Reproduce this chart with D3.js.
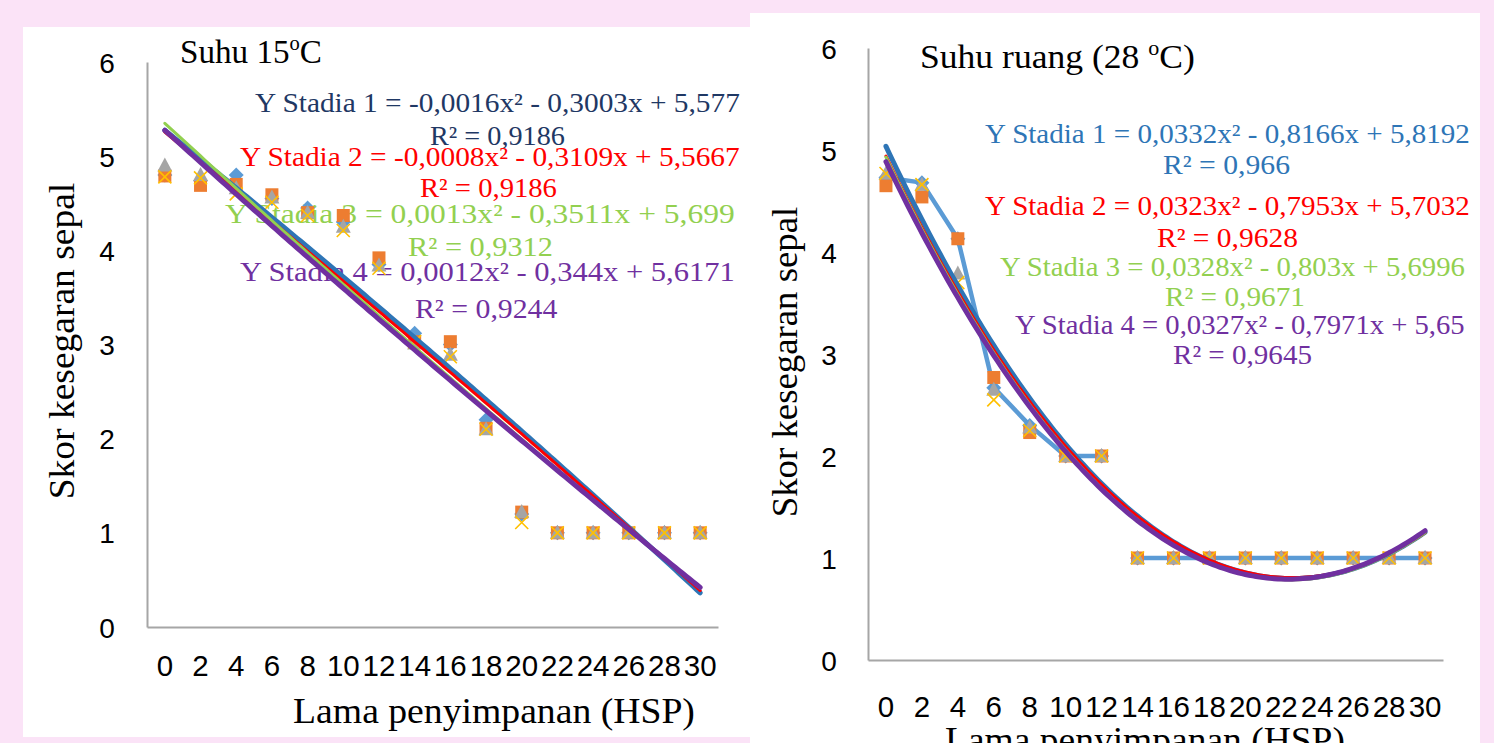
<!DOCTYPE html>
<html>
<head>
<meta charset="utf-8">
<script src="https://cdn.jsdelivr.net/npm/d3@7"></script>
<style>
  body { margin: 0; background: #fbe3f7; }
  svg { display: block; }
</style>
</head>
<body>
<svg width="1494" height="743"></svg>
<script>
/* global d3 */

// data: lama penyimpanan (HSP) dan skor kesegaran sepal per stadia
var hari = [0, 2, 4, 6, 8, 10, 12, 14, 16, 18, 20, 22, 24, 26, 28, 30];
var skorTicks = [0, 1, 2, 3, 4, 5, 6];

// suhu 15 C
var dingin1 = [4.80, 4.74, 4.80, 4.55, 4.45, 4.30, 3.85, 3.12, 3.00, 2.20, 1.20, 1, 1, 1, 1, 1];
var dingin2 = [4.79, 4.69, 4.70, 4.59, 4.40, 4.37, 3.92, 3.03, 3.03, 2.11, 1.22, 1, 1, 1, 1, 1];
var dingin3 = [4.90, 4.80, 4.66, 4.56, 4.40, 4.25, 3.84, 3.01, 2.89, 2.10, 1.22, 1, 1, 1, 1, 1];
var dingin4 = [4.78, 4.77, 4.60, 4.51, 4.37, 4.21, 3.81, 3.03, 2.87, 2.10, 1.11, 1, 1, 1, 1, 1];

// suhu ruang 28 C
var ruang1 = [4.73, 4.68, 4.13, 2.67, 2.30, 2, 2, 1, 1, 1, 1, 1, 1, 1, 1, 1];
var ruang2 = [4.65, 4.54, 4.13, 2.77, 2.23, 2, 2, 1, 1, 1, 1, 1, 1, 1, 1, 1];
var ruang3 = [4.77, 4.66, 3.79, 2.65, 2.28, 2, 2, 1, 1, 1, 1, 1, 1, 1, 1, 1];
var ruang4 = [4.77, 4.66, 3.70, 2.55, 2.25, 2, 2, 1, 1, 1, 1, 1, 1, 1, 1, 1];
var ruangPutus = 12; // garis stadia 1 terputus setelah hari ke-12

// koefisien trendline polinomial [a, b, c] -> a x^2 + b x + c (x = urutan 1..16)
var koefDingin = [[-0.0016, -0.3003, 5.577], [-0.0008, -0.3109, 5.5667], [0.0013, -0.3511, 5.699], [0.0012, -0.344, 5.6171]];
var koefRuang = [[0.0332, -0.8166, 5.8192], [0.0323, -0.7953, 5.7032], [0.0328, -0.803, 5.6996], [0.0327, -0.7971, 5.65]];

var persDingin = ["Y Stadia 1 = -0,0016x² - 0,3003x + 5,577", "Y Stadia 2 = -0,0008x² - 0,3109x + 5,5667",
                  "Y Stadia 3 = 0,0013x² - 0,3511x + 5,699", "Y Stadia 4 = 0,0012x² - 0,344x + 5,6171"];
var r2Dingin = ["R² = 0,9186", "R² = 0,9186", "R² = 0,9312", "R² = 0,9244"];
var persRuang = ["Y Stadia 1 = 0,0332x² - 0,8166x + 5,8192", "Y Stadia 2 = 0,0323x² - 0,7953x + 5,7032",
                 "Y Stadia 3 = 0,0328x² - 0,803x + 5,6996", "Y Stadia 4 = 0,0327x² - 0,7971x + 5,65"];
var r2Ruang = ["R² = 0,966", "R² = 0,9628", "R² = 0,9671", "R² = 0,9645"];

var svg = d3.select("svg");
var serif = "'Liberation Serif', 'Times New Roman', serif";
var sans = "'Liberation Sans', Arial, sans-serif";

// warna marker dan trendline
var warnaMarker = ["#5b9bd5", "#ed7d31", "#a5a5a5", "#ffc000"];
var bentuk = [
    "M0,-7.5L7.5,0L0,7.5L-7.5,0Z",
    "M-6.5,-6.5H6.5V6.5H-6.5Z",
    "M0,-8L7.5,6H-7.5Z",
    "M-6.5,-6.5L6.5,6.5M-6.5,6.5L6.5,-6.5"
];

// latar putih kedua panel
svg.append("rect").attr("x", 23).attr("y", 27).attr("width", 727).attr("height", 710).attr("fill", "#fff");
svg.append("rect").attr("x", 750).attr("y", 13).attr("width", 730).attr("height", 730).attr("fill", "#fff");

// teks yang dipaskan lebarnya (gambar asli agak ditarik)
function teksPas(x, y, lebar, isi, opsi) {
    var g = svg.append("g");
    var t = g.append("text")
        .attr("font-family", opsi.font || serif)
        .attr("font-size", opsi.size)
        .attr("fill", opsi.color || "#000")
        .attr("text-anchor", opsi.anchor || "start");
    if (Array.isArray(isi)) {
        t.append("tspan").text(isi[0]);
        t.append("tspan").attr("font-size", opsi.size * 0.62).attr("dy", -opsi.size * 0.38).text(isi[1]);
        t.append("tspan").attr("dy", opsi.size * 0.38).text(isi[2]);
    } else {
        t.text(isi);
    }
    var w = t.node().getBBox().width;
    var s = lebar / w;
    g.attr("transform", "translate(" + x + "," + y + ")" + (opsi.rotate ? " rotate(-90)" : "") + " scale(" + s + ",1)");
    return g;
}

function gambarGrafik(cfg) {
    var x = d3.scaleBand().domain(hari).range([cfg.left, cfg.right]);
    var y = d3.scaleLinear().domain([0, 6]).range([cfg.bottom, cfg.top]);
    var bw = x.bandwidth();
    var cx = function (d) { return x(d) + bw / 2; };

    // sumbu
    var ay = svg.append("g").attr("transform", "translate(" + cfg.left + ",0)")
        .call(d3.axisLeft(y).tickValues(skorTicks).tickSize(0).tickFormat(d3.format("d")));
    ay.select(".domain").attr("stroke", "#a6a6a6").attr("stroke-width", 2);
    ay.selectAll("text").attr("x", -cfg.labelY).attr("dy", "0.36em").attr("text-anchor", "middle")
        .attr("font-family", sans).attr("font-size", 28).attr("fill", "#000");

    var ax = svg.append("g").attr("transform", "translate(0," + cfg.bottom + ")")
        .call(d3.axisBottom(x).tickSize(0).tickSizeOuter(0));
    ax.select(".domain").attr("stroke", "#a6a6a6").attr("stroke-width", 2);
    ax.selectAll("text").attr("y", cfg.labelX).attr("dy", "0.71em")
        .attr("font-family", sans).attr("font-size", 29.5).attr("fill", "#000");

    // judul dan label sumbu
    teksPas(cfg.judul.x, cfg.judul.y, cfg.judul.w, cfg.judul.isi, { size: 34 });
    teksPas(cfg.judulY.x, cfg.judulY.y, cfg.judulY.w, "Skor kesegaran sepal", { size: 35, anchor: "middle", rotate: true });
    teksPas(cfg.judulX.x, cfg.judulX.y, cfg.judulX.w, "Lama penyimpanan (HSP)", { size: 35, anchor: "middle" });

    // persamaan trendline
    cfg.pers.forEach(function (p, i) {
        teksPas(p.x, p.y, p.w, cfg.teksPers[i], { size: 27, color: cfg.warnaTeks[i] });
        teksPas(p.rx, p.ry, p.rw, cfg.teksR2[i], { size: 27, color: cfg.warnaTeks[i] });
    });

    // garis data stadia 1 (hanya grafik suhu ruang)
    if (cfg.garis) {
        var titik = [];
        hari.forEach(function (h, i) {
            titik.push({ h: h, v: cfg.seri[0][i] });
            if (h === cfg.garis) titik.push({ h: h, v: null });
        });
        svg.append("path")
            .datum(titik)
            .attr("fill", "none")
            .attr("stroke", "#5b9bd5")
            .attr("stroke-width", 4.5)
            .attr("stroke-linejoin", "round")
            .attr("d", d3.line().defined(function (d) { return d.v !== null; })
                .x(function (d) { return cx(d.h); })
                .y(function (d) { return y(d.v); }));
    }

    // marker
    cfg.seri.forEach(function (s, k) {
        svg.append("g").selectAll("path")
            .data(s)
            .enter().append("path")
            .attr("transform", function (d, i) { return "translate(" + cx(hari[i]) + "," + y(d) + ")"; })
            .attr("d", bentuk[k])
            .attr("fill", k === 3 ? "none" : warnaMarker[k])
            .attr("stroke", k === 3 ? warnaMarker[k] : "none")
            .attr("stroke-width", 1.6);
    });

    // trendline polinomial
    var xi = d3.scaleLinear().domain([1, hari.length]).range([cx(hari[0]), cx(hari[hari.length - 1])]);
    var langkah = d3.range(1, hari.length + 0.001, 0.1);
    cfg.koef.forEach(function (c, k) {
        svg.append("path")
            .datum(langkah)
            .attr("fill", "none")
            .attr("stroke", cfg.warnaTrend[k])
            .attr("stroke-width", cfg.tebalTrend[k])
            .attr("stroke-linecap", "round")
            .attr("d", d3.line()
                .x(function (t) { return xi(t); })
                .y(function (t) { return y(c[0] * t * t + c[1] * t + c[2]); }));
    });
}

gambarGrafik({
    left: 147, right: 718, top: 62, bottom: 627, labelY: 40, labelX: 28,
    seri: [dingin1, dingin2, dingin3, dingin4],
    koef: koefDingin,
    warnaTrend: ["#2e75b6", "#ff0000", "#92d050", "#7030a0"],
    tebalTrend: [5, 3, 3, 5],
    warnaTeks: ["#1f3864", "#ff0000", "#92d050", "#7030a0"],
    teksPers: persDingin, teksR2: r2Dingin,
    judul: { x: 180, y: 63, w: 142, isi: ["Suhu 15", "o", "C"] },
    judulY: { x: 74, y: 341, w: 317 },
    judulX: { x: 494, y: 723, w: 402 },
    pers: [
        { x: 255, y: 112, w: 485, rx: 430, ry: 145, rw: 135 },
        { x: 240, y: 166, w: 500, rx: 420, ry: 197, rw: 137 },
        { x: 225, y: 223, w: 510, rx: 408, ry: 256, rw: 145 },
        { x: 240, y: 281, w: 495, rx: 415, ry: 318, rw: 143 }
    ]
});

gambarGrafik({
    left: 868, right: 1443, top: 48, bottom: 660, labelY: 39, labelX: 36, garis: ruangPutus,
    seri: [ruang1, ruang2, ruang3, ruang4],
    koef: koefRuang,
    warnaTrend: ["#2e75b6", "#ff0000", "#92d050", "#7030a0"],
    tebalTrend: [5, 3, 3, 5],
    warnaTeks: ["#2e75b6", "#ff0000", "#92d050", "#7030a0"],
    teksPers: persRuang, teksR2: r2Ruang,
    judul: { x: 920, y: 68, w: 275, isi: ["Suhu ruang (28 ", "o", "C)"] },
    judulY: { x: 797, y: 362, w: 311 },
    judulX: { x: 1145, y: 752, w: 400 },
    pers: [
        { x: 985, y: 143, w: 485, rx: 1163, ry: 174, rw: 127 },
        { x: 985, y: 215, w: 485, rx: 1157, ry: 247, rw: 141 },
        { x: 1000, y: 276, w: 465, rx: 1165, ry: 306, rw: 140 },
        { x: 1015, y: 334, w: 450, rx: 1173, ry: 364, rw: 139 }
    ]
});
</script>
</body>
</html>
